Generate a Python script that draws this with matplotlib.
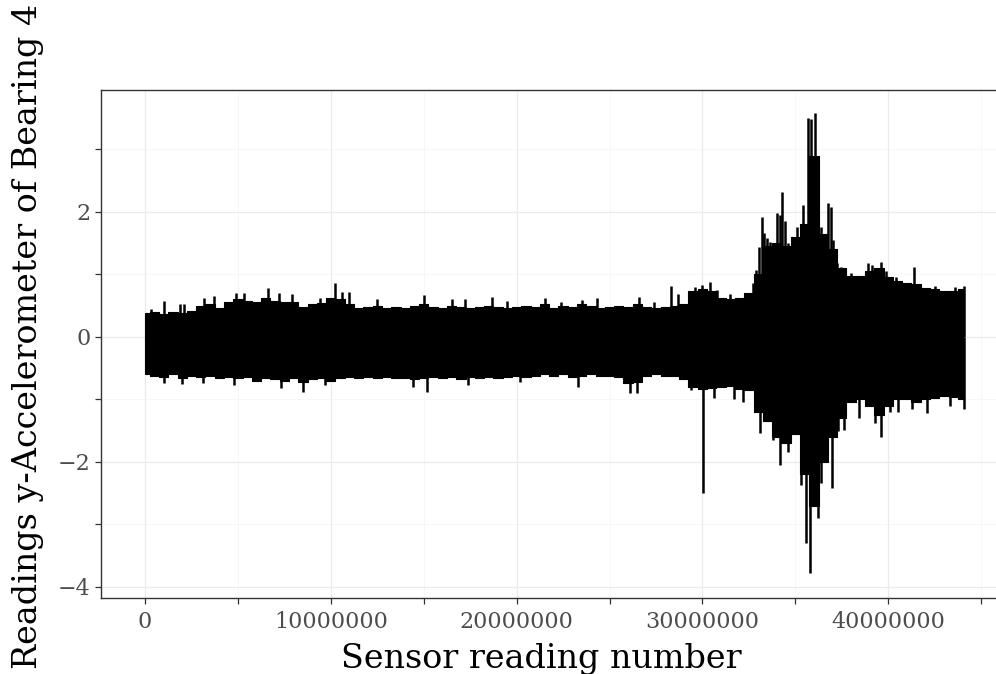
import matplotlib
matplotlib.use("Agg")
import matplotlib.pyplot as plt
from matplotlib.ticker import MultipleLocator
import numpy as np

# envelope of the vibration signal, every 0.5 million readings
step_m = 0.5
upper = [
    0.38, 0.40, 0.36, 0.40, 0.38, 0.42, 0.50, 0.52, 0.46, 0.56,
    0.60, 0.58, 0.56, 0.62, 0.58, 0.56, 0.56, 0.48, 0.52, 0.54,
    0.62, 0.60, 0.52, 0.46, 0.48, 0.50, 0.46, 0.48, 0.46, 0.50,
    0.52, 0.48, 0.46, 0.50, 0.48, 0.46, 0.48, 0.50, 0.48, 0.46,
    0.48, 0.50, 0.48, 0.52, 0.46, 0.50, 0.48, 0.52, 0.50, 0.46,
    0.48, 0.50, 0.48, 0.52, 0.48, 0.46, 0.48, 0.50, 0.52, 0.74,
    0.76, 0.74, 0.62, 0.60, 0.62, 0.70, 1.00, 1.45, 1.50, 1.45,
    1.60, 1.80, 2.90, 1.65, 1.40, 1.10, 0.98, 0.98, 1.05, 1.10,
    0.95, 0.90, 0.86, 0.85, 0.78, 0.76, 0.74, 0.74, 0.76,
]
lower = [
    -0.60, -0.62, -0.64, -0.60, -0.66, -0.62, -0.64, -0.62, -0.66, -0.64,
    -0.66, -0.64, -0.70, -0.66, -0.68, -0.70, -0.66, -0.72, -0.68, -0.66,
    -0.70, -0.66, -0.64, -0.66, -0.64, -0.66, -0.64, -0.66, -0.66, -0.68,
    -0.66, -0.64, -0.66, -0.64, -0.68, -0.64, -0.66, -0.64, -0.66, -0.64,
    -0.62, -0.64, -0.62, -0.60, -0.62, -0.60, -0.64, -0.62, -0.60, -0.62,
    -0.62, -0.64, -0.74, -0.72, -0.62, -0.60, -0.62, -0.62, -0.68, -0.80,
    -0.84, -0.82, -0.80, -0.78, -0.84, -0.85, -1.20, -1.35, -1.60, -1.70,
    -1.55, -2.20, -2.70, -2.00, -1.60, -1.30, -1.05, -1.00, -1.10, -1.25,
    -1.10, -1.00, -1.00, -1.05, -1.00, -0.98, -0.95, -0.97, -1.00,
]

# single narrow peaks sticking out of the envelope (million readings, value)
peak_up_x = [
    0.3, 1.0, 1.9, 2.1, 3.2, 3.7, 4.9, 5.3, 6.6, 7.2, 7.9, 9.4, 10.2, 10.6,
    11.0, 12.5, 15.0, 16.5, 17.2, 18.7, 19.5, 21.5, 22.4, 23.5, 24.3, 26.6,
    27.4, 28.3, 28.7, 29.6, 30.0, 30.4, 30.8, 31.5, 32.7, 32.9, 33.05, 33.2,
    33.3, 33.5, 33.65, 33.8, 34.0, 34.15, 34.3, 34.45, 34.6, 34.8, 35.1,
    35.4, 35.55, 35.7, 35.85, 36.05, 36.2, 36.4, 36.75, 36.9, 37.05, 37.25,
    37.45, 37.7, 38.0, 38.3, 38.9, 39.1, 39.6, 39.9, 40.4, 41.4, 42.5, 43.6,
    44.1,
]
peak_up_y = [
    0.45, 0.58, 0.52, 0.53, 0.62, 0.66, 0.70, 0.70, 0.78, 0.70, 0.69, 0.62, 0.86, 0.72,
    0.72, 0.60, 0.67, 0.60, 0.60, 0.64, 0.58, 0.62, 0.56, 0.59, 0.62, 0.64,
    0.56, 0.82, 0.69, 0.80, 0.83, 0.88, 0.75, 0.68, 0.86, 1.07, 1.44, 1.92,
    1.66, 1.58, 1.52, 1.44, 1.98, 1.95, 2.32, 1.85, 1.50, 1.56, 1.76,
    2.11, 1.80, 3.50, 3.48, 3.58, 2.80, 1.76, 2.14, 2.08, 1.55, 1.18,
    1.12, 1.07, 1.02, 0.96, 1.18, 1.15, 1.20, 1.05, 0.96, 1.12, 0.82, 0.80,
    0.82,
]
peak_down_x = [
    1.0, 2.0, 3.1, 4.8, 7.3, 8.5, 9.7, 14.4, 15.2, 17.4, 20.2, 23.3, 26.1,
    26.5, 29.4, 30.04, 30.6, 31.7, 32.2, 33.1, 33.8, 34.2, 34.6, 35.3, 35.6,
    35.8, 36.0, 36.2, 36.4, 36.7, 37.0, 37.3, 37.6, 38.4, 39.3, 39.6, 40.1,
    40.5, 41.3, 42.1, 43.3, 44.1,
]
peak_down_y = [
    -0.74, -0.76, -0.74, -0.77, -0.82, -0.88, -0.77, -0.80, -0.88, -0.77, -0.72, -0.80, -0.90,
    -0.90, -0.85, -2.50, -0.98, -1.00, -1.04, -1.54, -1.65, -2.05, -1.85, -2.37, -3.30,
    -3.78, -2.60, -2.90, -2.34, -1.86, -2.42, -1.50, -1.49, -1.30, -1.38, -1.60, -1.20,
    -1.20, -1.15, -1.22, -1.10, -1.15,
]

x_ticks = [0, 10000000, 20000000, 30000000, 40000000]
y_ticks = [-4, -2, 0, 2]

plt.rcParams["font.family"] = ["DejaVu Serif"]

fig = plt.figure(figsize=(9.96, 6.74), dpi=100)
# panel runs past the right edge of the picture, like the cropped original
ax = fig.add_axes([101 / 996, 76 / 674, 908 / 996, 508 / 674])

scale = 1e6
xs = np.arange(len(upper)) * step_m * scale
ax.fill_between(xs, lower, upper, step="mid", color="black", linewidth=0.8)
ax.vlines(np.array(peak_up_x) * scale, 0, peak_up_y, color="black", linewidth=1.8)
ax.vlines(np.array(peak_down_x) * scale, peak_down_y, 0, color="black", linewidth=1.8)

ax.set_xlim(-2.37e6, 46.5e6)
ax.set_ylim(-4.18, 3.95)
ax.set_xticks(x_ticks)
ax.set_xticklabels([str(v) for v in x_ticks])
ax.set_yticks(y_ticks)
ax.set_yticklabels(["\u22124", "\u22122", "0", "2"])
ax.xaxis.set_minor_locator(MultipleLocator(5e6))
ax.yaxis.set_minor_locator(MultipleLocator(1))

ax.grid(which="major", color="#EBEBEB", linewidth=0.9)
ax.grid(which="minor", color="#F4F4F4", linewidth=0.5)
ax.set_axisbelow(True)
for sp in ax.spines.values():
    sp.set_color("#333333")
    sp.set_linewidth(1.0)

ax.tick_params(which="both", length=4, width=0.9, color="#333333",
               labelcolor="#4D4D4D", labelsize=16)
ax.tick_params(axis="x", pad=5.5)
ax.tick_params(axis="y", pad=3.5)

fig.text(541 / 996, 6 / 674, "Sensor reading number", fontsize=24,
         ha="center", va="baseline")
fig.text(28 / 996, 338 / 674, "Readings y-Accelerometer of Bearing 4",
         fontsize=24, rotation=90, ha="center", va="center")

fig.savefig("out.png", dpi=100)
plt.close(fig)
